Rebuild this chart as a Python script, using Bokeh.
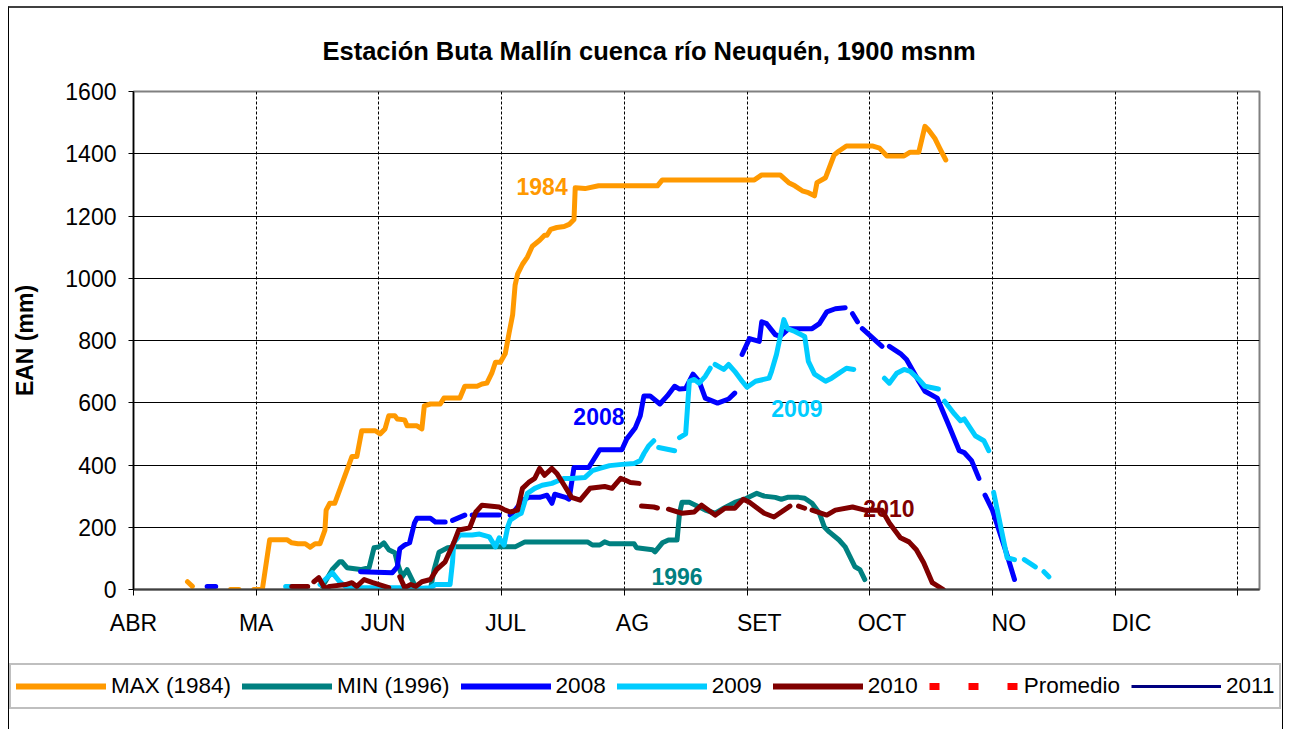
from bokeh.plotting import figure
from bokeh.layouts import column
from bokeh.models import FixedTicker, Legend, LegendItem, ColumnDataSource
from bokeh.core.properties import value
from bokeh.embed import file_html
from bokeh.resources import INLINE

NaN = float("nan")

# x = days since 1 April, y = EAN (mm)
max1984_x = [13.2, 14.4, NaN, 23.7, 25.8, NaN, 29.4, 31.5, 33.3, 37.5, 38.7, 40.2, 42.0, 43.2, 44.4, 45.6, 46.8, 47.1,
             48.0, 49.2, 51.0, 52.8, 53.4, 54.6, 55.8, 59.1, 60.3, 61.5, 62.4, 63.9, 64.5, 66.3, 66.9, 69.3, 70.5,
             71.1, 72.6, 75.0, 75.9, 79.8, 81.0, 84.0, 85.2, 86.4, 87.6, 88.5, 89.7, 90.9, 91.8, 92.7, 93.3, 93.9,
             95.1, 96.3, 97.5, 99.3, 100.5, 101.1, 102.0, 103.5, 105.3, 106.5, 107.7, 108.0, 110.4, 113.7, 128.1,
             129.3, 151.8, 153.6, 158.1, 160.2, 161.7, 163.5, 165.0, 166.5, 167.1, 169.2, 171.3, 172.5, 174.3,
             180.6, 182.4, 184.2, 188.4, 189.9, 192.0, 193.5, 194.4, 195.9, 197.1, 198.6]
max1984_y = [25, 10, NaN, 0, 0, NaN, 0, 0, 160, 160, 150, 147, 147, 136, 147, 147, 191, 255,
             277, 277, 341, 405, 427, 427, 510, 510, 500, 516, 558, 558, 548, 545, 526, 526, 516,
             590, 596, 596, 615, 615, 653, 653, 660, 663, 695, 730, 730, 758, 822, 883, 978, 1013,
             1045, 1068, 1103, 1122, 1138, 1138, 1157, 1163, 1166, 1173, 1189, 1291, 1288, 1297, 1297,
             1316, 1316, 1332, 1332, 1307, 1297, 1281, 1275, 1265, 1307, 1323, 1396, 1409, 1425,
             1425, 1418, 1393, 1393, 1405, 1405, 1488, 1476, 1450, 1418, 1380]

min1996_x = [46.2, 48.6, 50.4, 51.0, 52.2, 55.5, 57.6, 58.8, 60.0, 61.2, 62.4, 63.9, 64.5, 65.7, 66.9, 68.1, 69.3,
             72.6, 73.5, 74.7, 76.8, 78.6, 93.3, 95.7, 111.0, 112.2, 114.0, 115.2, 116.4, 122.4, 123.0, 126.9,
             127.5, 129.3, 130.8, 132.9, 133.5, 134.1, 135.9, 137.4, 139.8, 142.2, 144.3, 147.0, 149.4, 152.4,
             154.2, 156.9, 158.4, 159.9, 162.6, 164.1, 165.9, 167.7, 168.9, 170.1, 172.5, 174.0, 175.2, 176.4,
             177.6, 178.8]
min1996_y = [10, 64, 89, 89, 70, 64, 70, 134, 137, 150, 128, 118, 86, 41, 64, 32, 0,
             0, 64, 120, 134, 137, 137, 153, 153, 143, 143, 153, 147, 147, 134, 128,
             121, 150, 159, 159, 245, 280, 280, 271, 255, 245, 261, 280, 290, 309,
             300, 296, 290, 296, 296, 293, 277, 245, 201, 185, 159, 137, 105, 73,
             64, 32]

y2008_x = [18.0, 20.1, NaN, 55.5, 63.3, 64.5, 65.1, 66.3, 67.5, 68.7, 69.3, 72.6, 73.8, 76.2, NaN, 78.0, 81.0, NaN,
           82.8, 89.4, NaN, 92.1, 93.3, 95.1, 96.6, 99.3, 101.1, 102.3, 103.0, 105.6, 106.5, 107.7, 111.3, 114.0,
           119.4, 120.6, 122.7, 123.9, 124.8, 126.3, 128.7, 130.5, 132.3, 133.5, 135.0, 136.8, 138.3, 139.8,
           142.8, 145.5, 147.0, NaN, 148.8, 150.6, 153.0, 153.6, 154.8, 156.9, 158.1, 160.2, 165.9, 167.7,
           169.5, 171.6, 174.0, NaN, 175.8, 177.0, NaN, 178.2, 183.0, NaN, 184.8, 187.5, 189.0, 192.0, 193.5,
           196.5, 199.2, 201.9, 203.1, 204.9, 206.7, NaN, 208.2, 210.0, 213.6, 215.4]
y2008_y = [10, 10, NaN, 57, 54, 73, 131, 143, 150, 214, 229, 229, 217, 217, NaN, 222, 239, NaN,
           239, 239, NaN, 239, 255, 287, 296, 296, 303, 277, 306, 296, 290, 392, 392, 449,
           449, 484, 520, 558, 622, 622, 596, 622, 653, 644, 646, 692, 669, 615,
           599, 612, 631, NaN, 755, 806, 797, 860, 854, 819, 813, 838, 838, 854,
           892, 902, 905, NaN, 886, 860, NaN, 838, 781, NaN, 781, 758, 739, 669, 637,
           615, 532, 446, 440, 414, 357, NaN, 303, 255, 110, 32]

y2009_x = [37.2, 39.6, NaN, 45.6, 48.6, 50.4, 52.2, 65.1, 66.9, 69.3, 72.6, 73.8, 77.4, 78.0, 78.3, 79.8, 82.8,
           84.6, 87.0, 88.5, 89.4, 90.6, 91.5, 92.1, 93.9, 94.8, 96.3, 98.1, 99.9, 102.3, 104.1, 105.3, 107.1,
           110.4, 112.2, 114.0, 116.4, 119.4, 122.4, 123.9, 124.8, 126.0, 127.2, NaN, 128.4, 132.3, NaN, 133.5,
           135.0, 135.9, 137.1, 138.3, 139.8, 141.0, NaN, 142.2, 144.3, 145.5, 147.0, 148.8, 150.0, 152.1,
           155.4, 156.0, 157.2, 159.0, 159.9, 161.7, 164.1, 165.0, 166.5, 169.2, 170.7, 172.5, 174.3, 176.1,
           NaN, 183.6, 184.8, 186.6, 188.4, 189.9, 192.0, 193.5, 196.8, NaN, 198.3, 200.7, 202.2, 203.1,
           205.8, 207.9, 209.1, NaN, 210.3, 213.6, 215.4, NaN, 217.8, 220.5, NaN, 222.6, 223.8]
y2009_y = [10, 10, NaN, 16, 54, 25, 6, 6, 0, 3, 6, 16, 16, 89, 150, 175, 175,
           178, 169, 137, 166, 143, 201, 223, 239, 245, 309, 325, 335, 341, 351, 357, 357,
           360, 382, 389, 398, 402, 405, 414, 437, 462, 478, NaN, 456, 446, NaN, 488,
           500, 669, 675, 663, 685, 711, NaN, 723, 707, 723, 701, 669, 650, 669,
           679, 701, 755, 867, 838, 829, 813, 733, 692, 669, 679, 695, 711, 707,
           NaN, 679, 663, 695, 707, 701, 675, 653, 644, NaN, 605, 564, 542, 548,
           494, 478, 446, NaN, 312, 102, 96, NaN, 96, 73, NaN, 57, 41]

y2010_x = [38.7, 42.6, NaN, 44.1, 45.3, 46.8, 48.0, 51.9, 53.4, 54.6, 56.4, 58.5, 62.4, NaN, 65.1, 66.3, 67.8,
           69.0, 70.5, 72.6, 74.1, 76.2, 78.3, 79.5, 82.2, 83.7, 85.2, 89.4, 90.9, 92.1, 93.9, 95.1, 96.6,
           98.1, 99.3, 100.5, 102.3, 103.5, 105.3, 107.1, 109.2, 111.6, 115.2, 117.0, 119.1, 120.3, 121.5,
           123.6, NaN, 124.2, 127.2, 128.1, NaN, 130.8, 134.1, 137.1, 138.9, 142.2, 144.6, 147.0, 149.1,
           150.6, 154.2, 156.6, 160.5, NaN, 162.6, 164.1, NaN, 165.9, 169.5, 171.6, 175.8, 178.8, 183.0,
           184.8, 187.5, 189.6, 191.4, 193.2, 195.3, 198.0]
y2010_y = [10, 10, NaN, 25, 38, 3, 10, 16, 22, 10, 32, 22, 6, NaN, 41, 6, 16,
           10, 25, 32, 64, 89, 150, 191, 198, 249, 271, 265, 255, 249, 255, 325, 344,
           357, 389, 367, 389, 373, 335, 296, 287, 325, 331, 325, 357, 351, 344,
           341, NaN, 268, 265, 262, NaN, 258, 245, 249, 271, 239, 261, 261, 290,
           280, 245, 233, 268, NaN, 268, 261, NaN, 255, 239, 255, 265, 255, 255,
           214, 166, 153, 128, 86, 22, 0]

series_names = ["MAX (1984)", "MIN (1996)", "2008", "2009", "2010", "Promedio", "2011"]

month_labels = ["ABR", "MA", "JUN", "JUL", "AG", "SET", "OCT", "NO", "DIC"]
month_start_days = [0, 30, 61, 91, 122, 153, 183, 214, 244]
grid_days = [30, 60, 90, 120, 150, 180, 210, 240, 270]
y_ticks = [0, 200, 400, 600, 800, 1000, 1200, 1400, 1600]

label_texts = ["1984", "2008", "2009", "1996", "2010"]
label_x = [99.9, 113.8, 162.2, 132.9, 184.7]
label_y = [1294, 555, 583, 41, 261]

COLORS = ["#FF9900", "#008080", "#0000FF", "#00CCFF", "#800000", "#FF0000", "#000080"]
FONT = "Liberation Sans"

p = figure(width=1275, height=643, x_range=(0, 275.3), y_range=(0, 1600),
           output_backend="svg", toolbar_location=None,
           min_border_left=120, min_border_right=25, min_border_top=78, min_border_bottom=62)
p.styles = {"margin-left": "8px", "margin-top": "6px",
            "border-top": "2px solid #404040", "border-left": "1px solid #000000",
            "border-right": "1px solid #000000"}

p.title.text = "Estación Buta Mallín cuenca río Neuquén, 1900 msnm"
p.title.text_font = FONT
p.title.text_font_size = "25.5px"
p.title.text_font_style = "bold"
p.title.text_color = "#000000"
p.title.align = "left"
p.title.offset = 189
p.title.standoff = 53

p.background_fill_color = "white"
p.border_fill_color = "white"
p.outline_line_color = "#808080"
p.outline_line_width = 2

# axes
xa = p.xaxis[0]
xa.ticker = FixedTicker(ticks=month_start_days, minor_ticks=[0] + grid_days)
xa.major_label_overrides = {d: m for d, m in zip(month_start_days, month_labels)}
xa.major_tick_line_color = None
xa.minor_tick_in = 0
xa.minor_tick_out = 6
xa.minor_tick_line_color = "#000000"
xa.axis_line_color = "#404040"
xa.axis_line_width = 2
xa.major_label_text_font = FONT
xa.major_label_text_font_size = "23px"
xa.major_label_text_color = "#000000"
xa.major_label_standoff = 14

ya = p.yaxis[0]
ya.ticker = FixedTicker(ticks=y_ticks)
ya.major_tick_in = 0
ya.major_tick_out = 5
ya.minor_tick_line_color = None
ya.major_tick_line_color = "#000000"
ya.axis_line_color = "#000000"
ya.axis_line_width = 1.5
ya.major_label_text_font = FONT
ya.major_label_text_font_size = "23px"
ya.major_label_text_color = "#000000"
ya.major_label_standoff = 12
ya.axis_label = "EAN (mm)"
ya.axis_label_text_font = FONT
ya.axis_label_text_font_size = "23px"
ya.axis_label_text_font_style = "bold"
ya.axis_label_text_color = "#000000"
ya.axis_label_standoff = 24

p.xgrid.ticker = FixedTicker(ticks=grid_days)
p.xgrid.grid_line_color = "#000000"
p.xgrid.grid_line_dash = "3 2"
p.xgrid.grid_line_width = 1
p.ygrid.ticker = FixedTicker(ticks=y_ticks[1:-1])
p.ygrid.grid_line_color = "#000000"
p.ygrid.grid_line_width = 1

xs = [max1984_x, min1996_x, y2008_x, y2009_x, y2010_x]
ys = [max1984_y, min1996_y, y2008_y, y2009_y, y2010_y]
for x, y, c in zip(xs, ys, COLORS[:5]):
    p.line(x, y, line_color=c, line_width=5, line_cap="round", line_join="round")

lbl_colors = [COLORS[0], COLORS[2], COLORS[3], COLORS[1], COLORS[4]]
src = ColumnDataSource(dict(x=label_x, y=label_y, t=label_texts, c=lbl_colors))
p.text(x="x", y="y", text="t", text_color="c", source=src, text_font=value(FONT),
       text_font_size="23px", text_font_style="bold", text_align="center", text_baseline="middle")

# legend strip below the chart
lg = figure(width=1275, height=80, x_range=(0, 1), y_range=(0, 1),
            output_backend="svg", toolbar_location=None,
            x_axis_location=None, y_axis_location=None,
            min_border_left=0, min_border_right=0, min_border_top=0, min_border_bottom=0)
lg.styles = {"margin-left": "8px", "border-left": "1px solid #000000", "border-right": "1px solid #000000"}
if hasattr(lg, "frame_align"):
    lg.frame_align = False
    p.frame_align = False
lg.grid.visible = False
lg.outline_line_color = None
lg.background_fill_color = "white"
lg.border_fill_color = "white"

leg_renderers = []
for c in COLORS[:5]:
    leg_renderers.append(lg.line([NaN], [NaN], line_color=c, line_width=6, line_cap="round"))
leg_renderers.append(lg.line([NaN], [NaN], line_color=COLORS[5], line_width=7, line_dash="10 29"))
leg_renderers.append(lg.line([NaN], [NaN], line_color=COLORS[6], line_width=3))

legend = Legend(items=[LegendItem(label=n, renderers=[r]) for n, r in zip(series_names, leg_renderers)],
                orientation="horizontal", location=(0, 20))
legend.border_line_color = "#808080"
legend.border_line_width = 2
legend.background_fill_color = "white"
legend.background_fill_alpha = 1
legend.padding = 5
legend.margin = 0
legend.spacing = 11
legend.glyph_width = 90
legend.glyph_height = 32
legend.label_height = 32
legend.label_standoff = 5
legend.label_text_font = FONT
legend.label_text_font_size = "22.5px"
legend.label_text_color = "#000000"
lg.add_layout(legend, "center")

layout = column(p, lg, spacing=0)
open("out.html", "w").write(file_html(layout, INLINE))
